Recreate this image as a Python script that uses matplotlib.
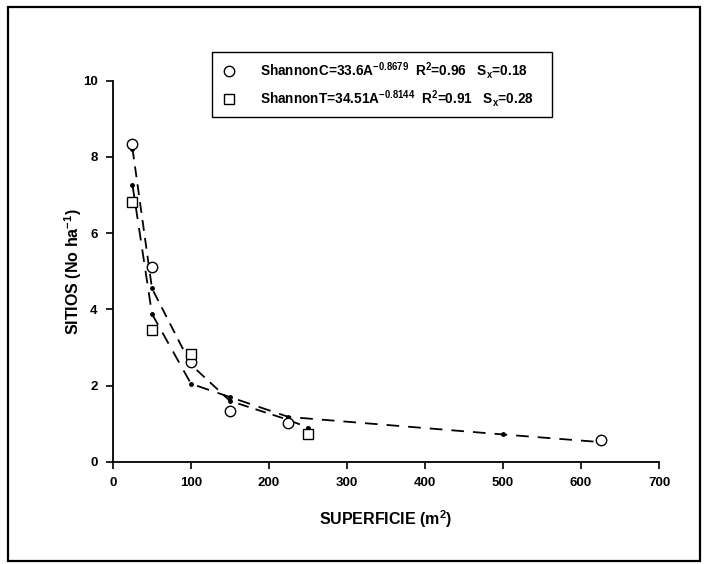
import matplotlib
matplotlib.use("Agg")
import matplotlib.pyplot as plt
from matplotlib.patches import Rectangle

plt.rcParams["font.family"] = ["Liberation Sans", "DejaVu Sans"]
plt.rcParams["mathtext.fontset"] = "custom"
plt.rcParams["mathtext.rm"] = "Liberation Sans:bold"
plt.rcParams["mathtext.it"] = "Liberation Sans:bold"
plt.rcParams["mathtext.bf"] = "Liberation Sans:bold"

# observed values
area_c = [25, 50, 100, 150, 225, 625]
shannon_c = [8.35, 5.12, 2.62, 1.33, 1.02, 0.57]
area_t = [25, 50, 100, 250]
shannon_t = [6.82, 3.46, 2.84, 0.73]

# fitted curves as drawn (dashed, with small dots)
fit_a_x = [25, 50, 100, 150, 225, 250]
fit_a_y = [8.22, 4.55, 2.55, 1.6, 1.1, 0.9]
fit_b_x = [25, 50, 100, 150, 225, 500, 625]
fit_b_y = [7.26, 3.88, 2.05, 1.7, 1.18, 0.72, 0.52]

label_c = r"ShannonC=33.6A$^{-0.8679}$  R$^{2}$=0.96   S$_{x}$=0.18"
label_t = r"ShannonT=34.51A$^{-0.8144}$  R$^{2}$=0.91   S$_{x}$=0.28"

xticks = [0, 100, 200, 300, 400, 500, 600, 700]
yticks = [0, 2, 4, 6, 8, 10]

fig = plt.figure(figsize=(7.04, 5.64), dpi=100)
ax = fig.add_axes([0.1605, 0.181, 0.7756, 0.676])

ax.plot(fit_a_x, fit_a_y, color="black", lw=1.3, ls=(0, (6, 4)),
        marker="o", markersize=2.5, zorder=2)
ax.plot(fit_b_x, fit_b_y, color="black", lw=1.3, ls=(0, (7, 5)),
        marker="o", markersize=2.5, zorder=2)

ax.plot(area_c, shannon_c, ls="none", marker="o", markersize=7.5,
        markerfacecolor="white", markeredgecolor="black", markeredgewidth=1.0,
        label=label_c, zorder=3, clip_on=False)
ax.plot(area_t, shannon_t, ls="none", marker="s", markersize=6.5,
        markerfacecolor="white", markeredgecolor="black", markeredgewidth=1.0,
        label=label_t, zorder=3, clip_on=False)

ax.set_xlim(0, 700)
ax.set_ylim(0, 10)
ax.set_xticks(xticks)
ax.set_yticks(yticks)
for side in ["top", "right"]:
    ax.spines[side].set_visible(False)
for side in ["left", "bottom"]:
    ax.spines[side].set_linewidth(1.3)
ax.tick_params(direction="out", length=5, width=1.2, labelsize=9.5, pad=6)
for tick in ax.get_xticklabels() + ax.get_yticklabels():
    tick.set_fontweight("bold")

ax.set_xlabel(r"SUPERFICIE (m$^{2}$)", fontsize=11.5, fontweight="bold", labelpad=14)
ax.set_ylabel(r"SITIOS (No ha$^{-1}$)", fontsize=11.5, fontweight="bold", labelpad=-1)

leg = ax.legend(loc="center", bbox_to_anchor=(0.301, 0.793, 0.483, 0.113),
                bbox_transform=fig.transFigure, mode="expand", borderaxespad=0,
                fancybox=False, edgecolor="black", framealpha=1,
                prop={"size": 9.8, "weight": "bold"}, handletextpad=1.6,
                labelspacing=0.5, borderpad=0.6, handlelength=1.3)
leg.get_frame().set_linewidth(1.0)

# outer frame around the figure
fig.patches.append(Rectangle((0.012, 0.006), 0.982, 0.982, transform=fig.transFigure,
                             fill=False, edgecolor="black", lw=1.6))

fig.savefig("out.png", dpi=100)
